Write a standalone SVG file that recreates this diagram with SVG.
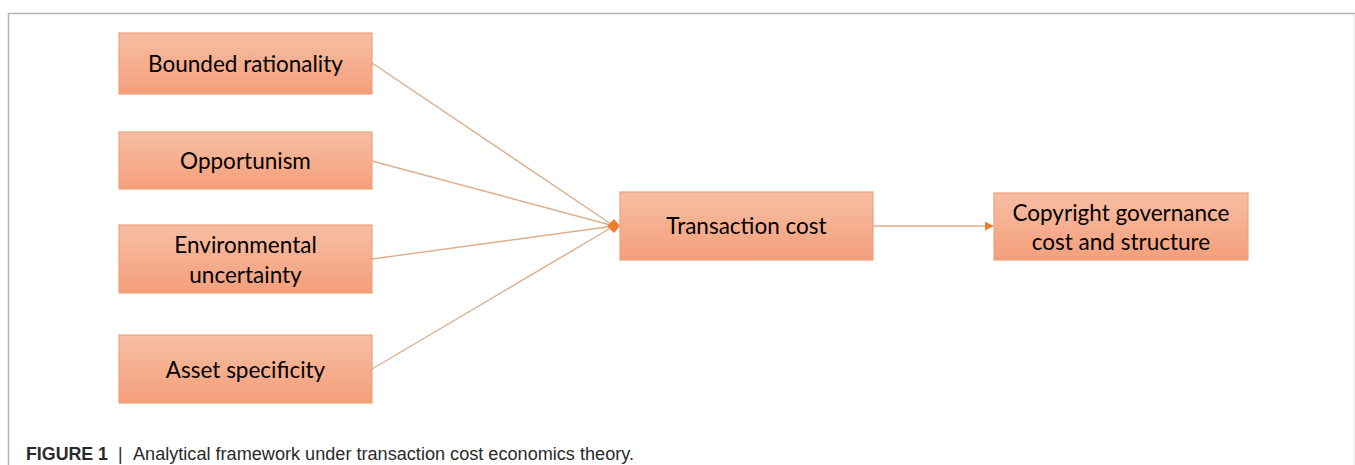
<svg xmlns="http://www.w3.org/2000/svg" width="1355" height="465" viewBox="0 0 1355 465">
  <defs>
    <linearGradient id="boxFill" x1="0" y1="0" x2="0" y2="1">
      <stop offset="0" stop-color="#f7bea3"/>
      <stop offset="1" stop-color="#f49f7b"/>
    </linearGradient>
    <marker id="arrowHead" viewBox="0 0 10 10" refX="9" refY="5" markerWidth="9" markerHeight="9" markerUnits="userSpaceOnUse" orient="auto">
      <path d="M0,0 L10,5 L0,10 Z" fill="#ed7d31"/>
    </marker>
  </defs>
  <style>
    .box { fill: url(#boxFill); stroke: #eba27f; stroke-width: 1.2; }
    .label { font-family: Lato, "Open Sans", sans-serif; font-size: 22.5px; fill: #000; text-anchor: middle; }
    .link { stroke: #dcae8c; stroke-width: 1.4; fill: none; }
    .frame { stroke: #b3b3b3; stroke-width: 1.5; fill: none; }
    .cap { font-family: "Liberation Sans", Arial, sans-serif; font-size: 17.5px; fill: #2a2a2a; }
  </style>

  <rect width="1355" height="465" fill="#ffffff"/>
  <path class="frame" d="M8.5,465 V13.5 H1355"/>
  <line x1="1354" y1="14" x2="1354" y2="465" stroke="#e6e6e6" stroke-width="1"/>

  <g id="connectors">
    <line class="link" x1="372" y1="63" x2="614" y2="226"/>
    <line class="link" x1="372" y1="161" x2="614" y2="226"/>
    <line class="link" x1="372" y1="259" x2="614" y2="226"/>
    <line class="link" x1="372" y1="369" x2="614" y2="226"/>
    <path d="M607,226 L614,219 L620,226 L614,233 Z" fill="#ed7d31"/>
    <line class="link" x1="873" y1="226" x2="993" y2="226" marker-end="url(#arrowHead)"/>
  </g>

  <g id="bounded-rationality">
    <rect class="box" x="119" y="33" width="253" height="61"/>
    <text class="label" x="245.5" y="72">Bounded rationality</text>
  </g>
  <g id="opportunism">
    <rect class="box" x="119" y="132" width="253" height="57"/>
    <text class="label" x="245.5" y="169">Opportunism</text>
  </g>
  <g id="environmental-uncertainty">
    <rect class="box" x="119" y="225" width="253" height="68"/>
    <text class="label" x="245.5" y="253">Environmental</text>
    <text class="label" x="245.5" y="283">uncertainty</text>
  </g>
  <g id="asset-specificity">
    <rect class="box" x="119" y="335" width="253" height="68"/>
    <text class="label" x="245.5" y="378">Asset specificity</text>
  </g>
  <g id="transaction-cost">
    <rect class="box" x="620" y="192" width="253" height="68"/>
    <text class="label" x="746.5" y="234">Transaction cost</text>
  </g>
  <g id="copyright-governance">
    <rect class="box" x="994" y="193" width="254" height="67"/>
    <text class="label" x="1121" y="221">Copyright governance</text>
    <text class="label" x="1121" y="250">cost and structure</text>
  </g>

  <g id="caption">
    <text class="cap" x="26" y="460" font-weight="bold" fill="#111" textLength="82" lengthAdjust="spacingAndGlyphs">FIGURE 1</text>
    <text class="cap" x="118" y="460" fill="#444">|</text>
    <text class="cap" x="133" y="460" textLength="501" lengthAdjust="spacingAndGlyphs">Analytical framework under transaction cost economics theory.</text>
  </g>
</svg>
